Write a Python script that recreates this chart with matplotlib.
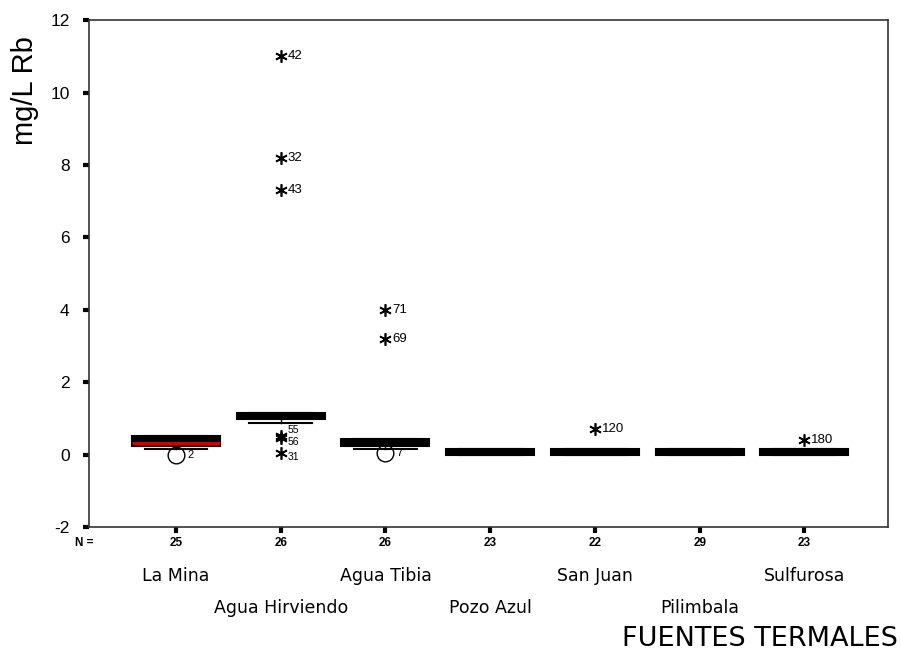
import matplotlib
matplotlib.use('Agg')
import matplotlib.pyplot as plt
import matplotlib.transforms as mtransforms

plt.rcParams['font.family'] = ['Liberation Sans', 'DejaVu Sans']
plt.rcParams['axes.unicode_minus'] = False

# groups (fuentes termales)
fuentes = ['La Mina', 'Agua Hirviendo', 'Agua Tibia', 'Pozo Azul', 'San Juan', 'Pilimbala', 'Sulfurosa']
n_casos = [25, 26, 26, 23, 22, 29, 23]

# box summaries (mg/L Rb)
q1 = [0.25, 0.99, 0.25, 0.0, 0.0, 0.0, 0.0]
mediana = [0.33, 1.08, 0.35, 0.05, 0.05, 0.05, 0.05]
q3 = [0.50, 1.16, 0.44, 0.15, 0.15, 0.15, 0.15]
bigote_inf = [0.16, 0.88, 0.16, 0.0, 0.0, 0.0, 0.0]
bigote_sup = [0.50, 1.16, 0.44, 0.15, 0.15, 0.15, 0.15]

# outliers (circles): group index, value, case label
atip_grupo = [1, 3]
atip_valor = [-0.02, 0.05]
atip_caso = ['2', '7']

# extremes (asterisks): group index, value, case label
ext_grupo = [2, 2, 2, 2, 2, 2, 3, 3, 5, 7]
ext_valor = [11.0, 8.2, 7.3, 0.52, 0.45, 0.05, 4.0, 3.2, 0.72, 0.41]
ext_caso = ['42', '32', '43', '55', '56', '31', '71', '69', '120', '180']

# small label nudges (points) for the crowded cluster near 0.5
empuje = {'55': 4, '56': -2.5, '31': -3}


def graf():
    fig = plt.figure(figsize=(9.01, 6.53), dpi=100)
    ax = fig.add_axes([0.0988, 0.193, 0.887, 0.776])

    stats = []
    for i in range(len(fuentes)):
        stats.append({'q1': q1[i], 'med': mediana[i], 'q3': q3[i],
                      'whislo': bigote_inf[i], 'whishi': bigote_sup[i],
                      'fliers': [], 'label': fuentes[i]})

    pos = list(range(1, len(fuentes) + 1))
    bp = ax.bxp(stats, positions=pos, widths=0.84, patch_artist=True,
                showfliers=False, capwidths=0.6,
                boxprops=dict(facecolor='black', edgecolor='black', linewidth=1.5),
                medianprops=dict(color='black', linewidth=1.5),
                whiskerprops=dict(color='black', linewidth=1),
                capprops=dict(color='black', linewidth=1.5))
    bp['medians'][0].set_color('#e00000')
    bp['medians'][0].set_linewidth(2)

    # outliers
    ax.plot(atip_grupo, atip_valor, 'o', mfc='none', mec='black', ms=12, mew=1)
    for g, v, c in zip(atip_grupo, atip_valor, atip_caso):
        ax.annotate(c, (g, v), xytext=(8, 0), textcoords='offset points',
                    fontsize=8, va='center')

    # extremes
    ax.plot(ext_grupo, ext_valor, ls='none', marker=(6, 2, 0), color='black',
            ms=9, mew=1.2)
    for g, v, c in zip(ext_grupo, ext_valor, ext_caso):
        dy = empuje.get(c, 0)
        fs = 7.5 if c in empuje else 9.5
        ax.annotate(c, (g, v), xytext=(5, dy), textcoords='offset points',
                    fontsize=fs, va='center')

    ax.set_xlim(0.17, 7.80)
    ax.set_ylim(-2, 12)
    ax.set_yticks(range(-2, 13, 2))
    ax.set_xticks(pos)
    ax.set_xticklabels([])
    ax.tick_params(axis='both', direction='out', length=4, width=3, labelsize=12.5)
    ax.tick_params(axis='y', pad=10)
    for s in ax.spines.values():
        s.set_linewidth(1.2)
        s.set_color('#333333')

    # N row and names below axis
    trans = mtransforms.blended_transform_factory(ax.transData, ax.transAxes)
    ax.text(-0.018, -0.032, 'N =', transform=ax.transAxes, fontsize=8.5,
            fontweight='bold', ha='left', va='center')
    for i, n in enumerate(n_casos):
        ax.text(pos[i], -0.032, str(n), transform=trans, fontsize=8.5,
                fontweight='bold', ha='center', va='center')
        fila = -0.097 if i % 2 == 0 else -0.16
        ax.text(pos[i], fila, fuentes[i], transform=trans, fontsize=12.5,
                family='DejaVu Sans', ha='center', va='center')

    fig.text(0.996, 0.022, 'FUENTES TERMALES', fontsize=19.5, family='DejaVu Sans',
             ha='right', va='center')
    fig.text(0.028, 0.945, 'mg/L Rb', fontsize=21, rotation=90, ha='center', va='top')

    fig.savefig('out.png', dpi=100)


if __name__ == '__main__':
    graf()
